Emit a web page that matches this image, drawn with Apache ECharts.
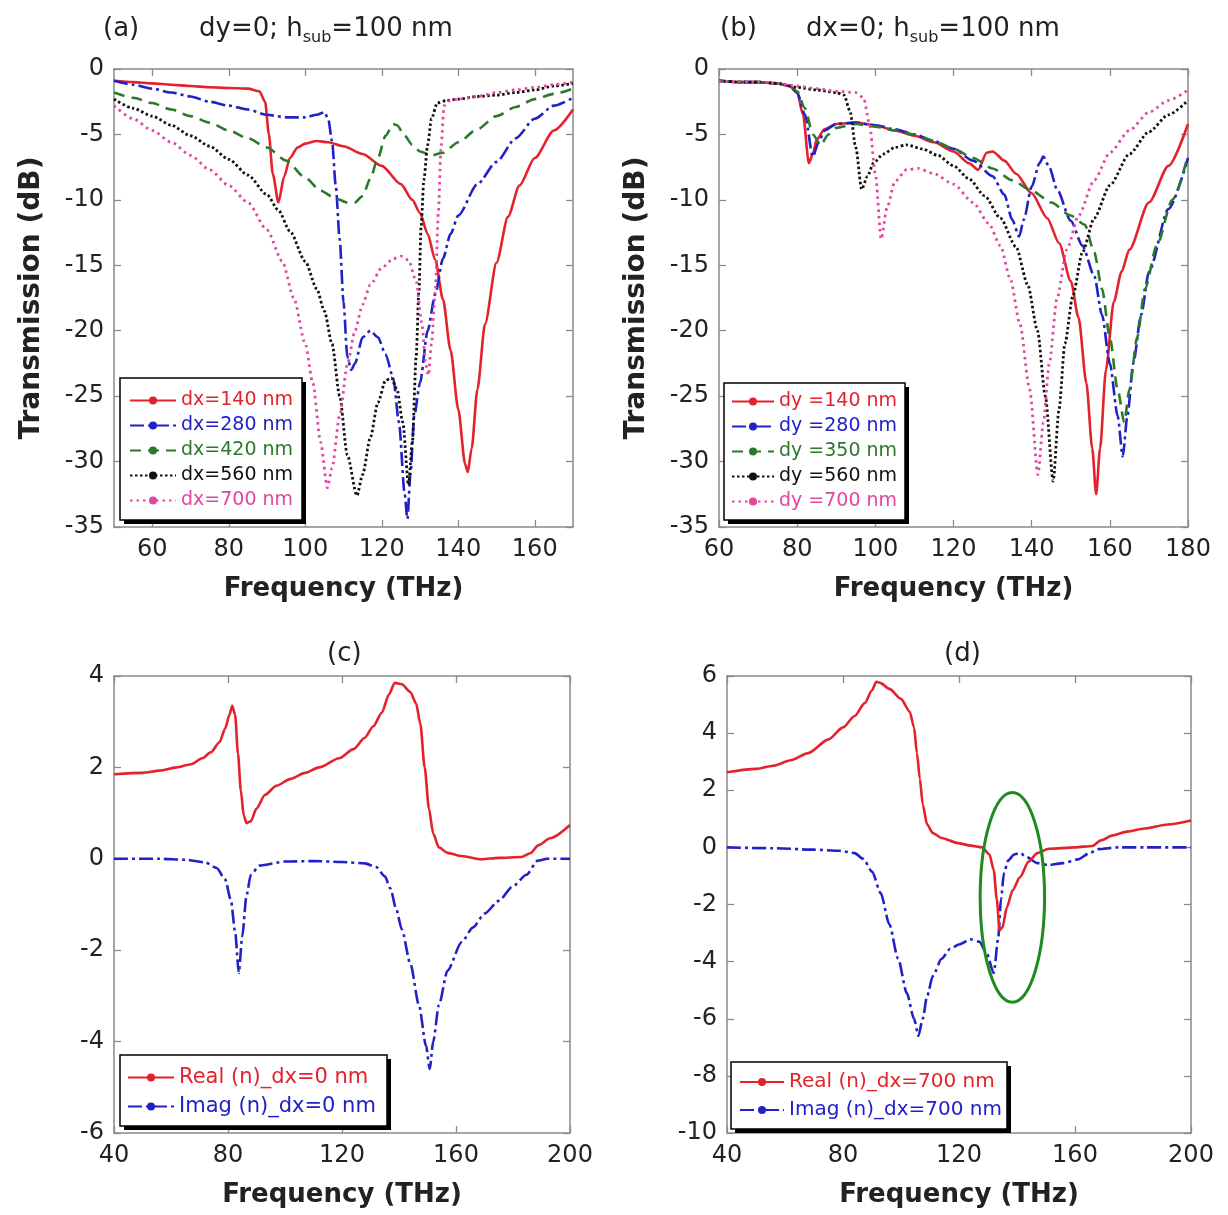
<!DOCTYPE html>
<html><head><meta charset="utf-8">
<script src="https://cdn.jsdelivr.net/npm/echarts@6/dist/echarts.min.js"></script>
<style>html,body{margin:0;padding:0;background:#fff}#c{width:1228px;height:1215px}</style>
</head><body><div id="c"></div>
<script>
// ---------- tick labels ----------
const aXTicks = [60, 80, 100, 120, 140, 160];
const bXTicks = [60, 80, 100, 120, 140, 160, 180];
const cdXTicks = [40, 80, 120, 160, 200];
const abYTicks = [0, -5, -10, -15, -20, -25, -30, -35];
const cYTicks = [4, 2, 0, -2, -4, -6];
const dYTicks = [6, 4, 2, 0, -2, -4, -6, -8, -10];

// ---------- panel (a): dy=0, transmission vs frequency ----------
const a_dx140 = [[50,-0.9],[55,-1.0],[60,-1.1],[65,-1.2],[70,-1.3],[75,-1.4],[80,-1.45],[85,-1.5],[88,-1.7],[89.5,-2.5],[90.5,-5],[91.5,-8],[93,-10.2],[94.5,-8.2],[96,-6.8],[98,-6.0],[100,-5.7],[103,-5.5],[106,-5.6],[110,-5.9],[115,-6.5],[120,-7.4],[125,-8.8],[128,-10],[130,-11],[132,-12.6],[134,-14.6],[136,-17.6],[138,-21.5],[140,-26],[141.8,-30.2],[142.5,-30.8],[143.5,-29],[145,-24.5],[147,-19.5],[150,-14.8],[153,-11.3],[156,-8.9],[160,-6.8],[165,-4.7],[170,-3.1]];
const a_dx280 = [[50,-0.9],[55,-1.2],[60,-1.5],[65,-1.8],[70,-2.1],[75,-2.5],[80,-2.8],[85,-3.1],[90,-3.5],[95,-3.7],[100,-3.7],[103,-3.5],[105,-3.3],[106,-3.8],[107,-5.5],[108,-9],[109,-13],[110,-17.8],[111,-22],[112,-23],[113,-22.5],[115,-20.5],[117,-20],[119,-20.5],[121,-21.8],[123,-23.6],[124.5,-27],[126,-32.5],[126.7,-34.4],[127.5,-31],[128.5,-26.5],[130,-24],[132,-20],[134,-17.2],[136,-14.5],[138,-12.6],[140,-11.2],[145,-8.8],[150,-7.1],[155,-5.3],[160,-3.8],[165,-2.8],[170,-2.2]];
const a_dx420 = [[50,-1.8],[55,-2.2],[60,-2.6],[65,-3.1],[70,-3.6],[75,-4.1],[80,-4.7],[85,-5.3],[90,-6.0],[95,-7.0],[100,-8.3],[104,-9.3],[108,-9.9],[111,-10.2],[113,-10.2],[115,-9.7],[117,-8.4],[119,-6.8],[121,-5.1],[123,-4.2],[124,-4.3],[126,-5.1],[128,-5.8],[130,-6.3],[133,-6.6],[136,-6.4],[140,-5.6],[145,-4.6],[150,-3.6],[155,-2.9],[160,-2.3],[165,-1.9],[170,-1.5]];
const a_dx560 = [[50,-2.3],[55,-3],[60,-3.6],[65,-4.3],[70,-5.1],[75,-5.9],[80,-6.9],[85,-8.1],[90,-9.6],[93,-10.8],[96,-12.4],[100,-14.7],[103,-16.8],[105,-18.5],[107,-21],[109,-25],[111,-29.5],[113.5,-32.6],[115,-31],[117,-28.2],[119,-25.5],[121,-23.8],[122.5,-23.6],[124,-24.5],[125.5,-27],[127,-31.8],[128,-28.5],[129,-22],[129.7,-17],[130.3,-12],[131,-8.5],[132,-5.8],[133,-3.8],[134.5,-2.6],[137,-2.4],[140,-2.3],[145,-2.1],[150,-2.0],[155,-1.8],[160,-1.6],[165,-1.3],[170,-1.1]];
const a_dx700 = [[50,-2.8],[55,-3.8],[60,-4.7],[65,-5.6],[70,-6.6],[75,-7.7],[80,-8.9],[85,-10.2],[90,-12.3],[94,-14.7],[97,-17.5],[100,-21],[102,-24],[104,-28.5],[105.8,-32],[107,-30.5],[109,-26.5],[111,-22.6],[113,-20],[115,-18],[117,-16.5],[120,-15.2],[123,-14.5],[125,-14.3],[127,-14.6],[129,-16.2],[130.5,-19.5],[131.5,-22.6],[132.2,-23.4],[133,-21],[134,-17],[134.8,-11],[135.5,-6],[136.3,-2.8],[138,-2.4],[140,-2.3],[145,-2.1],[150,-1.8],[155,-1.6],[160,-1.4],[165,-1.2],[170,-1.0]];

// ---------- panel (b): dx=0 ----------
const b_dy140 = [[60,-0.9],[65,-1.0],[70,-1.0],[75,-1.1],[78,-1.3],[80,-1.8],[81.5,-3.5],[83,-7.2],[84,-6.5],[85,-5.4],[87,-4.6],[90,-4.2],[95,-4.1],[100,-4.3],[105,-4.7],[110,-5.1],[115,-5.6],[120,-6.3],[124,-7.2],[126.3,-7.7],[128.5,-6.4],[130,-6.3],[133,-7.0],[136,-8.0],[140,-9.5],[144,-11.4],[147,-13.3],[150,-16.2],[152,-19],[154,-24],[155.5,-29],[156.5,-32.5],[157.5,-29],[159,-23],[161,-17.8],[163,-15.5],[165,-13.8],[170,-10.2],[175,-7.4],[180,-4.2]];
const b_dy280 = [[60,-0.9],[65,-1.0],[70,-1.0],[75,-1.1],[78,-1.3],[80,-1.8],[82,-3.5],[84,-6.7],[85.5,-5.6],[87,-4.7],[90,-4.2],[95,-4.1],[100,-4.3],[105,-4.6],[110,-5.0],[115,-5.5],[120,-6.1],[125,-7.0],[130,-8.2],[133,-9.6],[135,-11.5],[136.8,-12.8],[138,-11.5],[140,-9.0],[142,-7.2],[143,-6.7],[144.5,-7.5],[146.5,-9.2],[150,-11.6],[153,-13.5],[156,-15.8],[158,-18.8],[160,-22.5],[162,-26.5],[163.3,-29.6],[164.5,-26.5],[166,-22.5],[168,-18.8],[170,-15.5],[175,-10.7],[180,-6.8]];
const b_dy350 = [[60,-0.9],[65,-1.0],[70,-1.0],[75,-1.1],[78,-1.3],[80,-1.7],[82,-3],[84,-5],[86,-5.8],[88,-5.0],[90,-4.5],[95,-4.2],[100,-4.4],[105,-4.7],[110,-5.0],[115,-5.5],[120,-6.1],[125,-6.8],[130,-7.6],[135,-8.5],[140,-9.3],[145,-10.2],[150,-11.2],[153.6,-11.9],[156,-14],[158,-16.8],[160,-20.5],[162,-24.5],[163.7,-27],[165,-24.5],[167,-20.5],[169,-16.8],[172,-13.5],[176,-10],[180,-6.6]];
const b_dy560 = [[60,-0.9],[65,-1.0],[70,-1.0],[75,-1.1],[80,-1.4],[85,-1.6],[90,-1.8],[92,-2.0],[93.5,-3.2],[95,-6],[96.5,-9.2],[98,-8.2],[99.5,-7.2],[102,-6.5],[105,-6.0],[108,-5.8],[112,-6.1],[116,-6.6],[120,-7.4],[124,-8.4],[128,-9.7],[132,-11.4],[136,-13.6],[139,-16.5],[141.5,-20],[143.5,-25],[145.5,-31.5],[147,-26],[148.5,-21],[150.5,-17.4],[153,-14],[156,-11.4],[160,-8.9],[165,-6.5],[170,-4.8],[175,-3.5],[180,-2.4]];
const b_dy700 = [[60,-0.9],[65,-1.0],[70,-1.0],[75,-1.1],[80,-1.3],[85,-1.5],[90,-1.7],[95,-1.8],[97,-2.2],[98.5,-4.2],[100,-8],[101.5,-13],[103,-10.6],[105,-8.6],[108,-7.7],[111,-7.6],[115,-8.0],[120,-8.8],[125,-10.2],[129,-11.8],[132,-13.5],[134.5,-16],[137,-19.5],[139.5,-24.5],[141.6,-31],[143,-27],[144.5,-22.5],[146.5,-17.5],[149,-13.8],[152,-11.2],[156,-8.5],[160,-6.4],[165,-4.7],[170,-3.3],[175,-2.4],[180,-1.6]];

// ---------- panel (c): refractive index, dx=0 ----------
const c_real = [[40,1.85],[50,1.88],[56,1.93],[62,2.0],[67,2.07],[71,2.2],[74,2.33],[77,2.55],[79,2.85],[80.5,3.15],[81.5,3.35],[82.5,3.15],[83.5,2.3],[84.5,1.5],[85.5,0.95],[86.5,0.78],[88,0.82],[90,1.1],[93,1.4],[97,1.6],[102,1.75],[107,1.88],[112,2.0],[119,2.2],[124,2.4],[128,2.65],[131,2.9],[134,3.2],[136.5,3.6],[138.5,3.85],[141,3.82],[144,3.65],[146,3.4],[147.5,2.95],[149,2.0],[150.5,1.1],[152,0.55],[154,0.25],[157,0.13],[162,0.06],[169,-0.01],[175,0.02],[183,0.04],[186,0.12],[189,0.3],[193,0.45],[200,0.74]];
const c_imag = [[40,0],[56,0],[65,-0.02],[72,-0.08],[76,-0.2],[79,-0.45],[81,-0.9],[82.5,-1.6],[83.8,-2.5],[85,-1.7],[86.5,-0.8],[88,-0.35],[91,-0.15],[100,-0.06],[110,-0.05],[120,-0.07],[128,-0.1],[132,-0.18],[135,-0.38],[137,-0.65],[139,-1.1],[141,-1.55],[144,-2.3],[147,-3.2],[149.5,-4.1],[150.8,-4.6],[152,-4.0],[154,-3.2],[157,-2.45],[162,-1.82],[166,-1.5],[170,-1.2],[175,-0.92],[180,-0.6],[184.7,-0.35],[188.7,-0.04],[192,0],[200,0]];

// ---------- panel (d): refractive index, dx=700 nm ----------
const d_real = [[40,2.63],[50,2.75],[56,2.86],[62,3.05],[68,3.3],[75,3.78],[80,4.2],[84,4.6],[87.5,5.05],[90,5.5],[91.5,5.8],[93,5.75],[96,5.55],[100,5.2],[103,4.75],[104.5,4.2],[105.5,3.3],[106.5,2.4],[107.5,1.5],[109,0.8],[111,0.5],[114,0.33],[119.6,0.15],[124,0.06],[128,0.0],[130.5,-0.25],[132,-0.8],[133,-1.8],[134,-2.9],[135,-2.8],[136.5,-2.1],[138.5,-1.5],[141,-1.05],[144,-0.5],[147,-0.2],[151,-0.05],[160,0.0],[166,0.05],[169,0.25],[173,0.42],[178,0.55],[184,0.66],[192,0.8],[200,0.94]];
const d_imag = [[40,0],[56,-0.03],[70,-0.08],[79,-0.12],[84,-0.2],[87,-0.4],[90,-0.85],[93,-1.6],[96,-2.7],[99,-3.9],[102,-5.1],[104.5,-6.0],[106,-6.6],[107.5,-6.0],[109,-5.2],[111,-4.5],[114,-3.9],[117,-3.55],[120,-3.4],[124,-3.22],[127,-3.3],[129.5,-3.7],[132,-4.4],[133.5,-3.2],[134.5,-1.8],[135.5,-0.9],[137,-0.45],[139,-0.25],[141,-0.2],[143.5,-0.35],[147,-0.55],[151,-0.62],[156,-0.55],[161,-0.42],[165,-0.2],[168,-0.06],[175,0],[184,0],[200,0]];

// annotation ellipse in panel (d): centre (THz, n) and half-axes
const d_ellipseCenter = [138.4, -1.75];
const d_ellipseRadii = [11.1, 3.67];

const aNames = ['dx=140 nm','dx=280 nm','dx=420 nm','dx=560 nm','dx=700 nm'];
const bNames = ['dy =140 nm','dy =280 nm','dy =350 nm','dy =560 nm','dy =700 nm'];
const cNames = ['Real (n)_dx=0 nm','Imag (n)_dx=0 nm'];
const dNames = ['Real (n)_dx=700 nm','Imag (n)_dx=700 nm'];

// ---------- styling ----------
const RED = '#e3222b', BLUE = '#2121c8', GREEN = '#2b7a2b', BLACK = '#111111', PINK = '#e2469f';
const FONT = 'DejaVu Sans, Liberation Sans, sans-serif';
const AXC = '#8a8a8a';
const styles = [
  {color: RED, type: 'solid', width: 2.6},
  {color: BLUE, type: [14, 4, 3, 4], width: 2.6},
  {color: GREEN, type: [11, 7], width: 2.6},
  {color: BLACK, type: [2.5, 2.5], width: 2.8},
  {color: PINK, type: [2.5, 4], width: 2.8}
];

const grids = [
  {left: 114, top: 69, width: 459, height: 458},
  {left: 719, top: 69, width: 469, height: 458},
  {left: 114, top: 676, width: 456, height: 457},
  {left: 727, top: 676, width: 464, height: 457}
];

function xMain(g, min, max, ticks, name) {
  return {type: 'value', gridIndex: g, min: min, max: max, position: 'bottom',
    axisLine: {show: true, onZero: false, lineStyle: {color: AXC, width: 1.5}},
    axisTick: {show: true, inside: true, length: 7, customValues: ticks, lineStyle: {color: AXC, width: 1.3}},
    axisLabel: {customValues: ticks, color: '#222', fontSize: 24, margin: 11, fontFamily: FONT},
    splitLine: {show: false},
    name: name, nameLocation: 'middle', nameGap: 49,
    nameTextStyle: {fontSize: 26, fontWeight: 'bold', color: '#222', fontFamily: FONT}};
}
function xTop(g, min, max, ticks) {
  return {type: 'value', gridIndex: g, min: min, max: max, position: 'top',
    axisLine: {show: true, onZero: false, lineStyle: {color: AXC, width: 1.5}},
    axisTick: {show: true, inside: true, length: 7, customValues: ticks, lineStyle: {color: AXC, width: 1.3}},
    axisLabel: {show: false}, splitLine: {show: false}};
}
function yMain(g, min, max, ticks, name) {
  return {type: 'value', gridIndex: g, min: min, max: max, position: 'left',
    axisLine: {show: true, onZero: false, lineStyle: {color: AXC, width: 1.5}},
    axisTick: {show: true, inside: true, length: 7, customValues: ticks, lineStyle: {color: AXC, width: 1.3}},
    axisLabel: {customValues: ticks, color: '#222', fontSize: 24, margin: 10, fontFamily: FONT},
    splitLine: {show: false},
    name: name || '', nameLocation: 'middle', nameGap: 68, nameRotate: 90,
    nameTextStyle: {fontSize: 28, fontWeight: 'bold', color: '#222', fontFamily: FONT}};
}
function yRight(g, min, max, ticks) {
  return {type: 'value', gridIndex: g, min: min, max: max, position: 'right',
    axisLine: {show: true, onZero: false, lineStyle: {color: AXC, width: 1.5}},
    axisTick: {show: true, inside: true, length: 7, customValues: ticks, lineStyle: {color: AXC, width: 1.3}},
    axisLabel: {show: false}, splitLine: {show: false}};
}

const xAxes = [
  xMain(0, 50, 170, aXTicks, 'Frequency (THz)'),
  xMain(1, 60, 180, bXTicks, 'Frequency (THz)'),
  xMain(2, 40, 200, cdXTicks, 'Frequency (THz)'),
  xMain(3, 40, 200, cdXTicks, 'Frequency (THz)'),
  xTop(0, 50, 170, aXTicks), xTop(1, 60, 180, bXTicks),
  xTop(2, 40, 200, cdXTicks), xTop(3, 40, 200, cdXTicks)
];
const yAxes = [
  yMain(0, -35, 0, abYTicks, 'Transmission (dB)'),
  yMain(1, -35, 0, abYTicks, 'Transmission (dB)'),
  yMain(2, -6, 4, cYTicks),
  yMain(3, -10, 6, dYTicks),
  yRight(0, -35, 0, abYTicks), yRight(1, -35, 0, abYTicks),
  yRight(2, -6, 4, cYTicks), yRight(3, -10, 6, dYTicks)
];

function mk(name, data, g, st, z) {
  return {type: 'line', name: name, data: data, xAxisIndex: g, yAxisIndex: g,
    showSymbol: false, symbol: 'circle', symbolSize: 5, smooth: 0.25, smoothMonotone: 'x',
    lineStyle: {color: st.color, width: st.width, type: st.type},
    itemStyle: {color: st.color}, z: z || 2, animation: false, clip: true};
}

const aData = [a_dx140, a_dx280, a_dx420, a_dx560, a_dx700];
const bData = [b_dy140, b_dy280, b_dy350, b_dy560, b_dy700];
const series = [];
aData.forEach((d, i) => series.push(mk(aNames[i], d, 0, styles[i])));
bData.forEach((d, i) => series.push(mk(bNames[i], d, 1, styles[i])));
series.push(mk(cNames[0], c_real, 2, styles[0], 2.5));
series.push(mk(cNames[1], c_imag, 2, styles[1]));
series.push(mk(dNames[0], d_real, 3, styles[0], 2.5));
series.push(mk(dNames[1], d_imag, 3, styles[1]));

const legColors = [RED, BLUE, GREEN, BLACK, PINK];
function legend(names, left, top, fs, gap, iw) {
  return {orient: 'vertical', left: left, top: top, align: 'left', z: 7,
    data: names.map((n, i) => ({name: n, textStyle: {color: legColors[i]}})),
    itemWidth: iw, itemHeight: 10, itemGap: gap,
    textStyle: {fontSize: fs, fontFamily: FONT},
    padding: 0, backgroundColor: 'transparent', borderWidth: 0,
    selectedMode: false};
}
// legend frames (box + hard drop shadow)
function legendFrame(x, y, w, h) {
  return [
    {type: 'rect', z: 5, shape: {x: x + 4, y: y + 4, width: w, height: h}, style: {fill: '#000'}},
    {type: 'rect', z: 6, shape: {x: x, y: y, width: w, height: h}, style: {fill: '#fff', stroke: '#000', lineWidth: 1.5}}
  ];
}

const textStyleBase = {fill: '#222', fontFamily: FONT, fontSize: 26};
const subRich = {s: {fontSize: 16, fill: '#222', fontFamily: FONT, padding: [17, 0, 0, 0]}};
const graphics = [
  {type: 'text', left: 103, top: 16, style: Object.assign({text: '(a)'}, textStyleBase)},
  {type: 'text', left: 199, top: 16, style: Object.assign({}, textStyleBase, {text: 'dy=0; h{s|sub}=100 nm', rich: subRich})},
  {type: 'text', left: 720, top: 16, style: Object.assign({text: '(b)'}, textStyleBase)},
  {type: 'text', left: 806, top: 16, style: Object.assign({}, textStyleBase, {text: 'dx=0; h{s|sub}=100 nm', rich: subRich})},
  {type: 'text', left: 327, top: 641, style: Object.assign({text: '(c)'}, textStyleBase)},
  {type: 'text', left: 944, top: 641, style: Object.assign({text: '(d)'}, textStyleBase)}
].concat(
  legendFrame(120, 378, 182, 142),
  legendFrame(724, 383, 181, 137),
  legendFrame(120, 1055, 267, 71),
  legendFrame(731, 1062, 276, 67)
);

const chart = echarts.init(document.getElementById('c'), null, {renderer: 'canvas'});
chart.setOption({
  backgroundColor: '#fff',
  animation: false,
  grid: grids,
  xAxis: xAxes,
  yAxis: yAxes,
  legend: [
    legend(aNames, 129, 391, 19, 6, 46),
    legend(bNames, 731, 392, 19, 6, 42),
    legend(cNames, 127, 1067, 21, 8, 46),
    legend(dNames, 739, 1072, 20, 8, 44)
  ],
  series: series,
  graphic: graphics
});

// ellipse annotation placed through the axes of panel (d)
const cpx = chart.convertToPixel({xAxisIndex: 3, yAxisIndex: 3}, d_ellipseCenter);
const epx = chart.convertToPixel({xAxisIndex: 3, yAxisIndex: 3},
  [d_ellipseCenter[0] + d_ellipseRadii[0], d_ellipseCenter[1] + d_ellipseRadii[1]]);
chart.setOption({graphic: graphics.concat([{
  type: 'ellipse', id: 'ell', z: 10,
  shape: {cx: cpx[0], cy: cpx[1], rx: Math.abs(epx[0] - cpx[0]), ry: Math.abs(epx[1] - cpx[1])},
  style: {fill: 'none', stroke: '#1f8a1f', lineWidth: 3}
}])});
</script></body></html>
